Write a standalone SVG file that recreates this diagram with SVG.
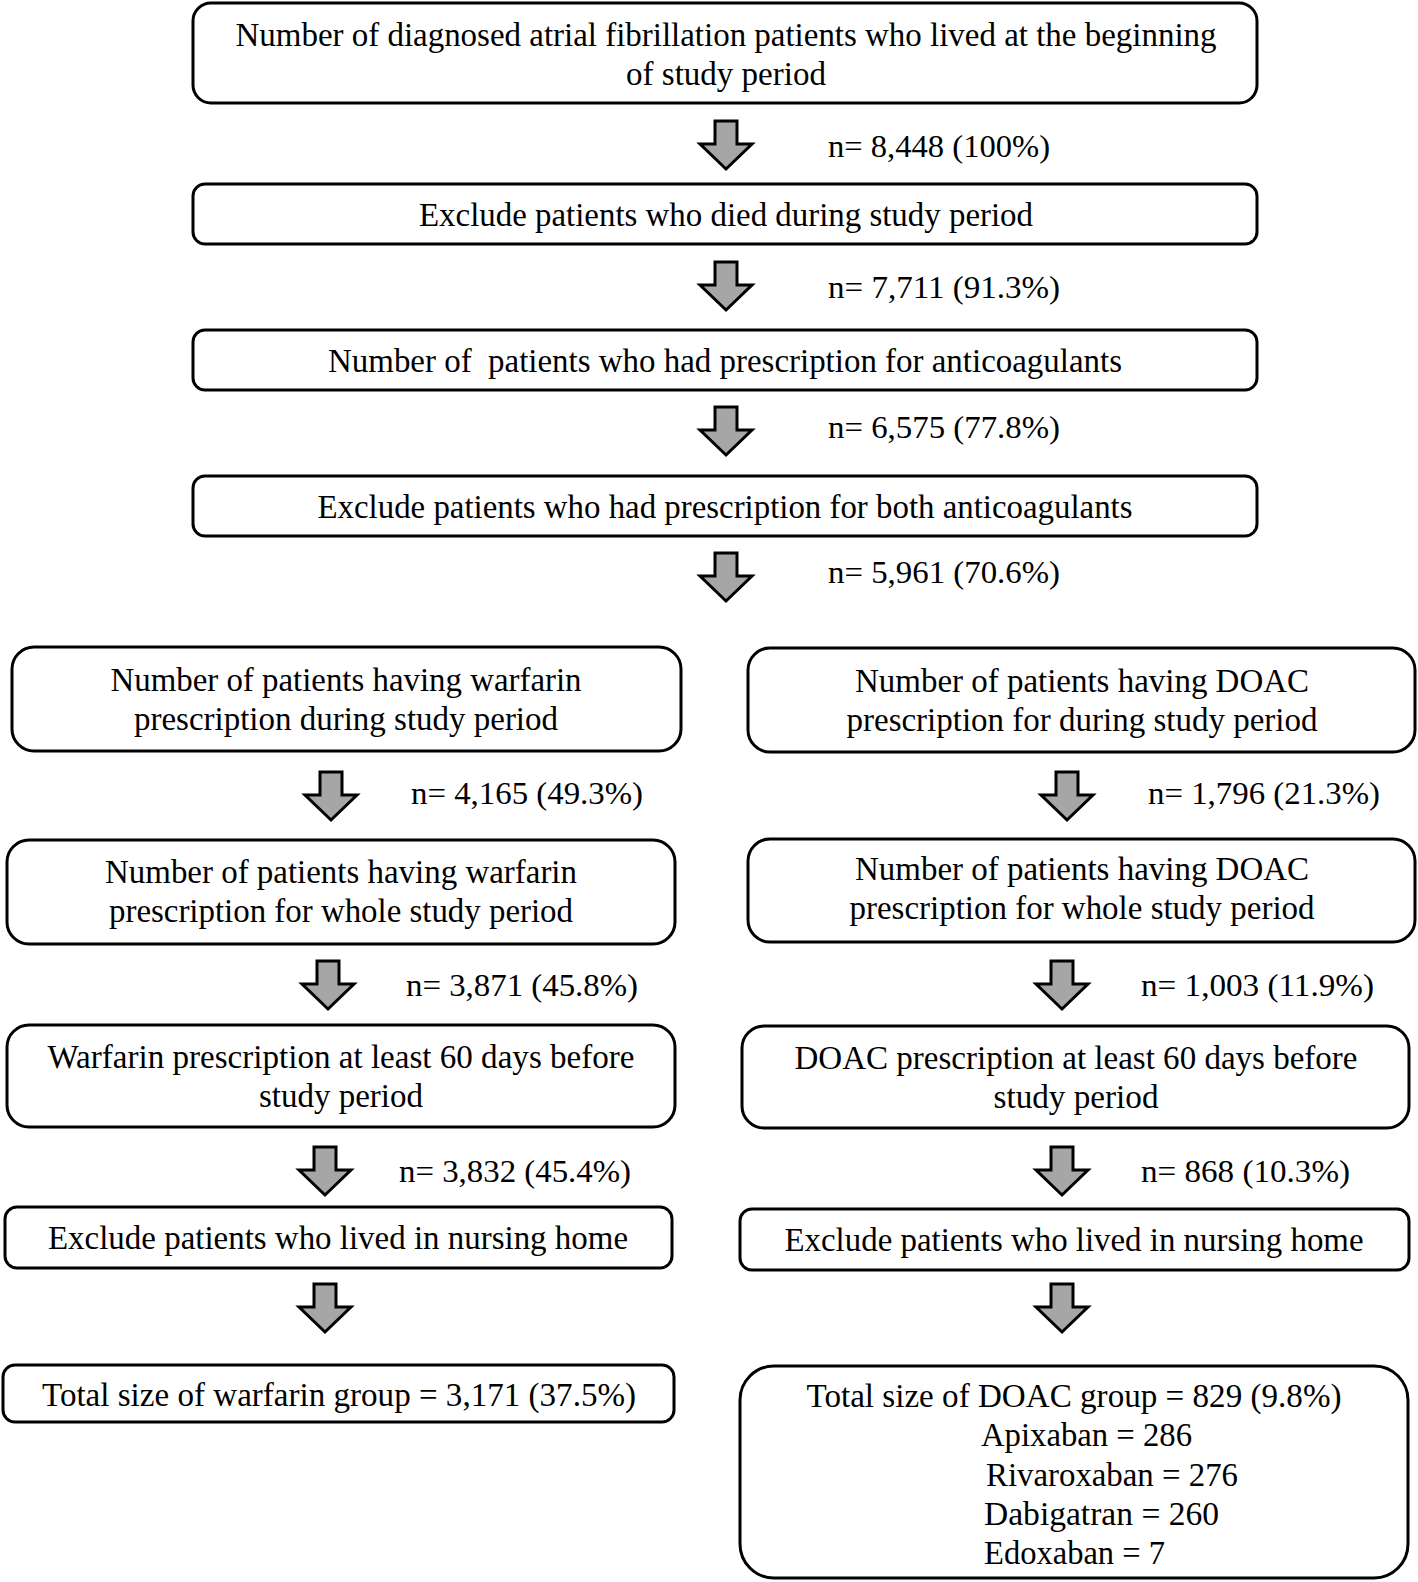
<svg xmlns="http://www.w3.org/2000/svg" width="1418" height="1582" viewBox="0 0 1418 1582">
<style>
.box{fill:#fff;stroke:#000;stroke-width:3}
.t{font-family:"Liberation Serif",Tinos,"Times New Roman",Times,serif;font-size:33px;fill:#000}
.n{font-family:"Liberation Serif",Tinos,"Times New Roman",Times,serif;font-size:31px;fill:#000}
.c{text-anchor:middle}
.arr{fill:#a6a6a6;stroke:#000;stroke-width:3;stroke-linejoin:miter}
</style>
<defs>
<path id="dn" d="M-11,0 H11 V23 H26 L0,48 L-26,23 H-11 Z"/>
</defs>
<rect width="1418" height="1582" fill="#fff"/>
<g id="connectors">
<use href="#dn" class="arr" x="726" y="121"/>
<use href="#dn" class="arr" x="726" y="262"/>
<use href="#dn" class="arr" x="726" y="407"/>
<use href="#dn" class="arr" x="726" y="553"/>
<use href="#dn" class="arr" x="331" y="772"/>
<use href="#dn" class="arr" x="328" y="961"/>
<use href="#dn" class="arr" x="325" y="1147"/>
<use href="#dn" class="arr" x="325" y="1284"/>
<use href="#dn" class="arr" x="1067" y="772"/>
<use href="#dn" class="arr" x="1062" y="961"/>
<use href="#dn" class="arr" x="1062" y="1147"/>
<use href="#dn" class="arr" x="1062" y="1284"/>
<text class="n" x="828" y="157" textLength="222" lengthAdjust="spacingAndGlyphs">n= 8,448 (100%)</text>
<text class="n" x="828" y="298" textLength="232" lengthAdjust="spacingAndGlyphs">n= 7,711 (91.3%)</text>
<text class="n" x="828" y="438" textLength="232" lengthAdjust="spacingAndGlyphs">n= 6,575 (77.8%)</text>
<text class="n" x="828" y="583" textLength="232" lengthAdjust="spacingAndGlyphs">n= 5,961 (70.6%)</text>
<text class="n" x="411" y="804" textLength="232" lengthAdjust="spacingAndGlyphs">n= 4,165 (49.3%)</text>
<text class="n" x="406" y="996" textLength="232" lengthAdjust="spacingAndGlyphs">n= 3,871 (45.8%)</text>
<text class="n" x="399" y="1182" textLength="232" lengthAdjust="spacingAndGlyphs">n= 3,832 (45.4%)</text>
<text class="n" x="1148" y="804" textLength="232" lengthAdjust="spacingAndGlyphs">n= 1,796 (21.3%)</text>
<text class="n" x="1141" y="996" textLength="233" lengthAdjust="spacingAndGlyphs">n= 1,003 (11.9%)</text>
<text class="n" x="1141" y="1182" textLength="209" lengthAdjust="spacingAndGlyphs">n= 868 (10.3%)</text>
</g>
<g id="n1">
<rect class="box" x="193" y="3" width="1064" height="100" rx="18"/>
<text class="t c" x="726" y="46" textLength="981" lengthAdjust="spacingAndGlyphs">Number of diagnosed atrial fibrillation patients who lived at the beginning</text>
<text class="t c" x="726" y="85" textLength="200" lengthAdjust="spacingAndGlyphs">of study period</text>
</g>
<g id="n2">
<rect class="box" x="193" y="184" width="1064" height="60" rx="12"/>
<text class="t c" x="726" y="226" textLength="614" lengthAdjust="spacingAndGlyphs">Exclude patients who died during study period</text>
</g>
<g id="n3">
<rect class="box" x="193" y="330" width="1064" height="60" rx="12"/>
<text class="t c" x="725" y="372" textLength="794" lengthAdjust="spacingAndGlyphs" xml:space="preserve">Number of  patients who had prescription for anticoagulants</text>
</g>
<g id="n4">
<rect class="box" x="193" y="476" width="1064" height="60" rx="12"/>
<text class="t c" x="725" y="518" textLength="815" lengthAdjust="spacingAndGlyphs">Exclude patients who had prescription for both anticoagulants</text>
</g>
<g id="w1">
<rect class="box" x="12" y="647" width="669" height="104" rx="22"/>
<text class="t c" x="346" y="691" textLength="471" lengthAdjust="spacingAndGlyphs">Number of patients having warfarin</text>
<text class="t c" x="346" y="730" textLength="424" lengthAdjust="spacingAndGlyphs">prescription during study period</text>
</g>
<g id="d1">
<rect class="box" x="748" y="648" width="667" height="104" rx="22"/>
<text class="t c" x="1082" y="692" textLength="454" lengthAdjust="spacingAndGlyphs">Number of patients having DOAC</text>
<text class="t c" x="1082" y="731" textLength="471" lengthAdjust="spacingAndGlyphs">prescription for during study period</text>
</g>
<g id="w2">
<rect class="box" x="7" y="840" width="668" height="104" rx="22"/>
<text class="t c" x="341" y="883" textLength="472" lengthAdjust="spacingAndGlyphs">Number of patients having warfarin</text>
<text class="t c" x="341" y="922" textLength="464" lengthAdjust="spacingAndGlyphs">prescription for whole study period</text>
</g>
<g id="d2">
<rect class="box" x="748" y="839" width="667" height="103" rx="22"/>
<text class="t c" x="1082" y="880" textLength="454" lengthAdjust="spacingAndGlyphs">Number of patients having DOAC</text>
<text class="t c" x="1082" y="919" textLength="465" lengthAdjust="spacingAndGlyphs">prescription for whole study period</text>
</g>
<g id="w3">
<rect class="box" x="7" y="1025" width="668" height="102" rx="22"/>
<text class="t c" x="341" y="1068" textLength="587" lengthAdjust="spacingAndGlyphs">Warfarin prescription at least 60 days before</text>
<text class="t c" x="341" y="1107" textLength="164" lengthAdjust="spacingAndGlyphs">study period</text>
</g>
<g id="d3">
<rect class="box" x="742" y="1026" width="667" height="102" rx="22"/>
<text class="t c" x="1076" y="1069" textLength="563" lengthAdjust="spacingAndGlyphs">DOAC prescription at least 60 days before</text>
<text class="t c" x="1076" y="1108" textLength="165" lengthAdjust="spacingAndGlyphs">study period</text>
</g>
<g id="w4">
<rect class="box" x="5" y="1207" width="667" height="61" rx="12"/>
<text class="t c" x="338" y="1249" textLength="580" lengthAdjust="spacingAndGlyphs">Exclude patients who lived in nursing home</text>
</g>
<g id="d4">
<rect class="box" x="740" y="1209" width="669" height="61" rx="12"/>
<text class="t c" x="1074" y="1251" textLength="579" lengthAdjust="spacingAndGlyphs">Exclude patients who lived in nursing home</text>
</g>
<g id="w5">
<rect class="box" x="3" y="1365" width="671" height="57" rx="12"/>
<text class="t c" x="339" y="1406" textLength="594" lengthAdjust="spacingAndGlyphs">Total size of warfarin group = 3,171 (37.5%)</text>
</g>
<g id="d5">
<rect class="box" x="740" y="1366" width="668" height="212" rx="34"/>
<text class="t c" x="1074" y="1407" textLength="535" lengthAdjust="spacingAndGlyphs">Total size of DOAC group = 829 (9.8%)</text>
<text class="t" x="981" y="1446" textLength="211" lengthAdjust="spacingAndGlyphs">Apixaban = 286</text>
<text class="t" x="986" y="1486" textLength="252" lengthAdjust="spacingAndGlyphs">Rivaroxaban = 276</text>
<text class="t" x="984" y="1525" textLength="235" lengthAdjust="spacingAndGlyphs">Dabigatran = 260</text>
<text class="t" x="984" y="1564" textLength="181" lengthAdjust="spacingAndGlyphs">Edoxaban = 7</text>
</g>
</svg>
